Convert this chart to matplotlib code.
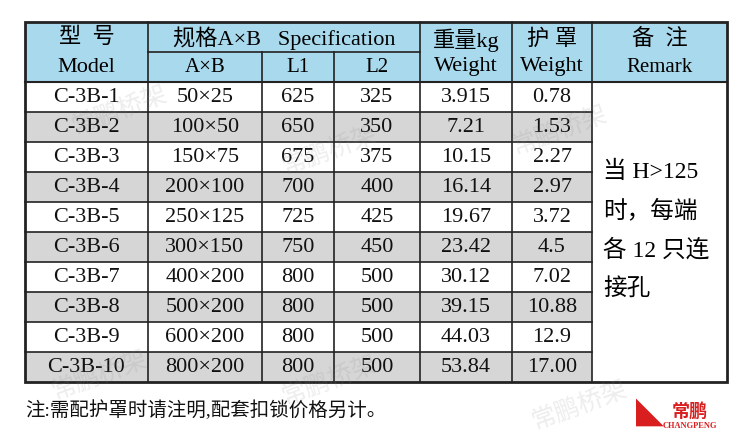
import matplotlib
matplotlib.use("Agg")
import matplotlib.pyplot as plt
from matplotlib.patches import Rectangle

models = ["C-3B-1","C-3B-2","C-3B-3","C-3B-4","C-3B-5","C-3B-6","C-3B-7","C-3B-8","C-3B-9","C-3B-10"]
axb = ["50×25","100×50","150×75","200×100","250×125","300×150","400×200","500×200","600×200","800×200"]
l1 = ["625","650","675","700","725","750","800","800","800","800"]
l2 = ["325","350","375","400","425","450","500","500","500","500"]
weight = ["3.915","7.21","10.15","16.14","19.67","23.42","30.12","39.15","44.03","53.84"]
cover = ["0.78","1.53","2.27","2.97","3.72","4.5","7.02","10.88","12.9","17.00"]
remark_lines = ["当 H>125","时，每端","各 12 只连","接孔"]
note = "注:需配护罩时请注明,配套扣锁价格另计。"

FAM = ["Liberation Serif", "Noto Sans CJK SC", "DejaVu Sans"]
plt.rcParams['font.family'] = FAM

fig = plt.figure(figsize=(7.5, 4.34), dpi=100)
ax = fig.add_axes([0, 0, 1, 1])
ax.set_xlim(0, 750); ax.set_ylim(434, 0); ax.axis("off")

xs = [25, 148, 262, 334, 420, 512, 592, 727]
y0, yh, rh = 22, 52, 30
ydata = 82
ybot = ydata + rh * len(models)
hdr = "#a9d9ec"
grey = "#d6d6d6"
lc = "#222222"

ax.add_patch(Rectangle((xs[0], y0), xs[-1]-xs[0], ydata-y0, color=hdr, lw=0))
for i in range(len(models)):
    y = ydata + i*rh
    c = "white" if i % 2 == 0 else grey
    ax.add_patch(Rectangle((xs[0], y), xs[6]-xs[0], rh, color=c, lw=0))
    cols = [models[i], axb[i], l1[i], l2[i], weight[i], cover[i]]
    for j, t in enumerate(cols):
        ax.text((xs[j]+xs[j+1])/2, y+rh/2+1, t, ha="center", va="center", fontsize=16, color="#111")
    ax.plot([xs[0], xs[6]], [y, y], color=lc, lw=1.2)

fs = 16
ax.text((xs[0]+xs[1])/2, 38, "型  号", ha="center", va="center", fontsize=fs)
ax.text((xs[0]+xs[1])/2, 68, "Model", ha="center", va="center", fontsize=fs)
ax.text((xs[1]+xs[4])/2, 38, "规格A×B   Specification", ha="center", va="center", fontsize=fs)
ax.text((xs[1]+xs[2])/2, 67, "A×B", ha="center", va="center", fontsize=fs-1)
ax.text((xs[2]+xs[3])/2, 67, "L1", ha="center", va="center", fontsize=fs-1)
ax.text((xs[3]+xs[4])/2, 67, "L2", ha="center", va="center", fontsize=fs-1)
ax.text((xs[4]+xs[5])/2, 40, "重量kg", ha="center", va="center", fontsize=fs)
ax.text((xs[4]+xs[5])/2, 67, "Weight", ha="center", va="center", fontsize=fs)
ax.text((xs[5]+xs[6])/2, 40, "护 罩", ha="center", va="center", fontsize=fs)
ax.text((xs[5]+xs[6])/2, 67, "Weight", ha="center", va="center", fontsize=fs)
ax.text((xs[6]+xs[7])/2, 40, "备  注", ha="center", va="center", fontsize=fs)
ax.text((xs[6]+xs[7])/2, 67, "Remark", ha="center", va="center", fontsize=fs-1)

for k, t in enumerate(remark_lines):
    ax.text(603, 172 + k*39, t, ha="left", va="center", fontsize=fs+1)

ax.plot([xs[1], xs[4]], [yh, yh], color=lc, lw=1.2)
ax.plot([xs[0], xs[7]], [ydata, ydata], color=lc, lw=1.5)
for j, x in enumerate(xs[1:-1], start=1):
    top = yh if j in (2, 3) else y0
    ax.plot([x, x], [top, ybot], color=lc, lw=1.2)
ax.add_patch(Rectangle((xs[0], y0), xs[-1]-xs[0], ybot-y0, fill=False, ec=lc, lw=2))

ax.text(25, 410, note, ha="left", va="center", fontsize=14, color="#111")

for (x, y) in [(120, 110), (330, 150), (560, 130), (100, 375), (330, 380), (580, 405)]:
    ax.text(x, y, "常鹏桥架", fontsize=18, color="#888", alpha=0.15, rotation=20,
            ha="center", va="center")

ax.text(690, 412, "常鹏", fontsize=13, color="#d81e1e", ha="center", va="center", weight="bold")
ax.text(690, 426, "CHANGPENG", fontsize=6, color="#d81e1e", ha="center", va="center", weight="bold")
ax.text(650, 415, "◣", fontsize=20, color="#d81e1e", ha="center", va="center")

fig.savefig("out.png", dpi=100)
